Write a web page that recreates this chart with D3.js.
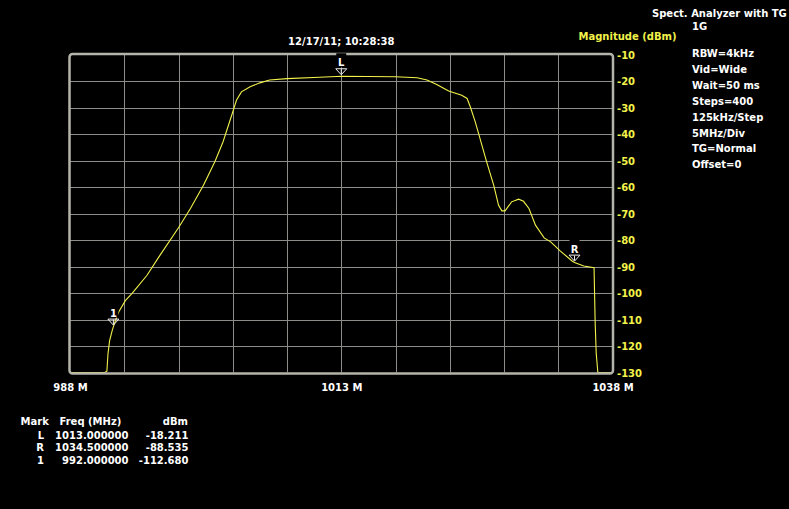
<!DOCTYPE html>
<html><head><meta charset="utf-8">
<script src="https://cdn.jsdelivr.net/npm/d3@7"></script>
<style>
html,body{margin:0;padding:0;background:#000;}
svg{display:block;}
text{font-family:"DejaVu Sans",Verdana,sans-serif;font-weight:bold;font-size:10px;}
</style></head>
<body>
<svg id="c" width="789" height="509"></svg>
<script>
// ---- data ----
const freqMHz = [988, 991.2, 991.4, 991.5, 991.65, 991.9, 992.0, 992.2, 992.5, 993.1, 993.7, 995.1, 996.3, 998.0, 999.1, 1000.3, 1001.35, 1002.1, 1003.0, 1003.35, 1003.8, 1004.6, 1005.5, 1006.4, 1008.0, 1011.0, 1013.0, 1018.0, 1020.0, 1020.9, 1021.8, 1022.9, 1024.1, 1024.6, 1024.9, 1025.35, 1025.7, 1026.4, 1027.05, 1027.5, 1027.8, 1028.1, 1028.7, 1029.35, 1029.8, 1030.3, 1030.9, 1031.7, 1032.3, 1033.2, 1034.3, 1034.5, 1035.35, 1036.3, 1036.4, 1036.5, 1036.65, 1038];
const magDBm = [-130, -130, -129.5, -123, -118, -114, -112.7, -110.3, -107.1, -102.9, -100.2, -93.3, -85.7, -75.4, -68.1, -59.3, -50.5, -43.0, -31.7, -27.2, -24.1, -22.2, -20.7, -19.6, -19.1, -18.6, -18.2, -18.4, -18.8, -19.6, -21.3, -23.8, -25.4, -26.6, -29.8, -35.4, -40.4, -50.5, -59.3, -66.9, -69.0, -69.0, -65.6, -64.6, -65.4, -68.1, -74.4, -79.2, -80.7, -84.2, -88.0, -88.5, -89.8, -90.5, -110.9, -122.8, -130, -130];
const yTicks = [-10, -20, -30, -40, -50, -60, -70, -80, -90, -100, -110, -120, -130];
const xGrid = [988, 993, 998, 1003, 1008, 1013, 1018, 1023, 1028, 1033, 1038];
const xTickLabels = [[988, "988 M"], [1013, "1013 M"], [1038, "1038 M"]];
const markerNames = ["L", "R", "1"];
const markerFreq = [1013.0, 1034.5, 992.0];
const markerDBm = [-18.211, -88.535, -112.680];
const markerFreqText = ["1013.000000", "1034.500000", "992.000000"];
const markerDBmText = ["-18.211", "-88.535", "-112.680"];
const settings = ["RBW=4kHz", "Vid=Wide", "Wait=50 ms", "Steps=400", "125kHz/Step", "5MHz/Div", "TG=Normal", "Offset=0"];
const titleText = "12/17/11; 10:28:38";

// ---- chart ----
const svg = d3.select("#c");
svg.append("rect").attr("width", 789).attr("height", 509).attr("fill", "#000");
const L = 70, R = 612.5, T = 54.5, B = 372.5;
const x = d3.scaleLinear().domain([988, 1038]).range([L, R]);
const y = d3.scaleLinear().domain([-10, -130]).range([T, B]);
const yellow = "#f2f24a", grid = "#8c8c88", border = "#b4b4aa";

// gridlines
const g = svg.append("g");
g.selectAll("line.v").data(xGrid.slice(1, -1)).join("line")
  .attr("x1", d => Math.round(x(d)) + 0.5).attr("x2", d => Math.round(x(d)) + 0.5)
  .attr("y1", T).attr("y2", B).attr("stroke", grid).attr("stroke-width", 1);
g.selectAll("line.h").data(yTicks.slice(1, -1)).join("line")
  .attr("y1", d => Math.round(y(d)) + 0.5).attr("y2", d => Math.round(y(d)) + 0.5)
  .attr("x1", L).attr("x2", R).attr("stroke", grid).attr("stroke-width", 1);

// trace
const pts = freqMHz.map((f, i) => [f, magDBm[i]]);
svg.append("path").datum(pts)
  .attr("d", d3.line().x(d => x(d[0])).y(d => y(d[1])))
  .attr("fill", "none").attr("stroke", yellow).attr("stroke-width", 1.1);

// border
svg.append("rect").attr("x", L - 0.5).attr("y", T - 0.5).attr("width", R - L + 1).attr("height", B - T + 1.5)
  .attr("rx", 3).attr("fill", "none").attr("stroke", border).attr("stroke-width", 2.5);

// y axis labels (right)
const yAxis = d3.axisRight(y).tickValues(yTicks).tickSize(0).tickPadding(0).tickFormat(d => "-" + Math.abs(d));
const ya = svg.append("g").attr("transform", `translate(617,0)`).call(yAxis);
ya.select(".domain").remove();
ya.selectAll("text").attr("fill", yellow).attr("font-size", "10.5px").attr("dy", "0.36em").attr("x", 0);

// x labels
const xAxis = d3.axisBottom(x).tickValues(xTickLabels.map(d => d[0])).tickSize(0).tickPadding(0)
  .tickFormat(d => xTickLabels.find(t => t[0] === d)[1]);
const xa = svg.append("g").attr("transform", `translate(0,391)`).call(xAxis);
xa.select(".domain").remove();
xa.selectAll("text").attr("fill", "#fff").attr("dy", 0).attr("y", 0).attr("font-size", "10px");

// title & headers
svg.append("text").attr("x", x(1013)).attr("y", 44.5).attr("text-anchor", "middle").attr("fill", "#fff").text(titleText);
svg.append("text").attr("x", 578.5).attr("y", 40).attr("fill", yellow).text("Magnitude (dBm)");
svg.append("text").attr("x", 652).attr("y", 16.5).attr("fill", "#fff").text("Spect. Analyzer with TG");
svg.append("text").attr("x", 692).attr("y", 30).attr("fill", "#fff").text("1G");
svg.selectAll("text.set").data(settings).join("text").attr("class", "set")
  .attr("x", 692).attr("y", (d, i) => 57.3 + i * 15.86).attr("fill", "#fff").text(d => d);

// markers
markerNames.forEach((m, i) => {
  const mx = x(markerFreq[i]), my = y(markerDBm[i]);
  const mg = svg.append("g");
  mg.append("rect").attr("x", mx - 5).attr("y", my - 23).attr("width", 10).attr("height", 14).attr("fill", "#000");
  mg.append("text").attr("x", mx).attr("y", my - 10).attr("text-anchor", "middle").attr("fill", "#fff").attr("font-size", "12px").text(m);
  mg.append("path").attr("d", `M${mx - 5.5},${my - 7.5}L${mx + 5.5},${my - 7.5}L${mx},${my - 1.5}Z`)
    .attr("fill", "none").attr("stroke", "#eee").attr("stroke-width", 1);
  mg.append("line").attr("x1", mx).attr("x2", mx).attr("y1", my - 7).attr("y2", my - 2).attr("stroke", "#eee").attr("stroke-width", 1);
});

// marker table
const tb = svg.append("g").attr("fill", "#fff");
tb.append("text").attr("x", 20.5).attr("y", 425).text("Mark");
tb.append("text").attr("x", 59.5).attr("y", 425).text("Freq (MHz)");
tb.append("text").attr("x", 188).attr("y", 425).attr("text-anchor", "end").text("dBm");
markerNames.forEach((m, i) => {
  const yy = 438.5 + i * 12.5;
  tb.append("text").attr("x", 44).attr("y", yy).attr("text-anchor", "end").text(m);
  tb.append("text").attr("x", 128.5).attr("y", yy).attr("text-anchor", "end").text(markerFreqText[i]);
  tb.append("text").attr("x", 188.5).attr("y", yy).attr("text-anchor", "end").text(markerDBmText[i]);
});
</script>
</body></html>
